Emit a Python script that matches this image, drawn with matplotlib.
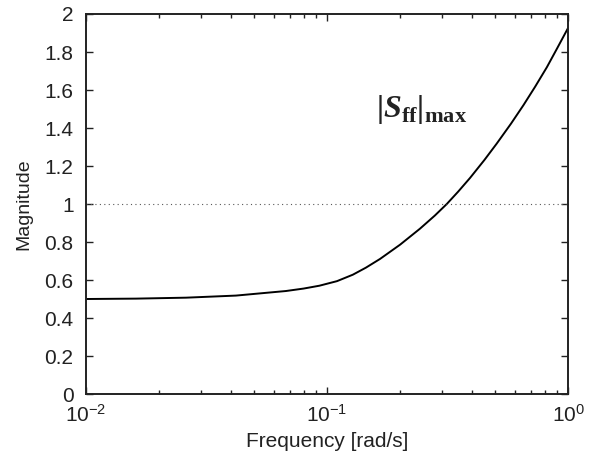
import numpy as np
import matplotlib
matplotlib.use("Agg")
import matplotlib.pyplot as plt

plt.rcParams['font.family'] = ['Liberation Sans', 'DejaVu Sans']
plt.rcParams['mathtext.fontset'] = 'custom'
plt.rcParams['mathtext.rm'] = 'Liberation Sans'
plt.rcParams['mathtext.bf'] = 'Liberation Serif:bold'
plt.rcParams['mathtext.bfit'] = 'Liberation Serif:italic:bold'

# values
freq = [0.01, 0.0161, 0.026, 0.0419, 0.0675, 0.08, 0.093, 0.11, 0.128, 0.145,
        0.166, 0.201, 0.243, 0.28, 0.314, 0.35, 0.392, 0.45, 0.506,
        0.58, 0.653, 0.73, 0.817, 0.9, 1.0]
mag = [0.500, 0.502, 0.507, 0.518, 0.542, 0.555, 0.570, 0.594, 0.628, 0.665,
       0.711, 0.786, 0.870, 0.939, 1.0, 1.065, 1.137, 1.232, 1.318,
       1.423, 1.52, 1.617, 1.72, 1.818, 1.926]
ref_x = [0.01, 1.0]
ref_y = [1.0, 1.0]
yticks = [0, 0.2, 0.4, 0.6, 0.8, 1, 1.2, 1.4, 1.6, 1.8, 2]
ytick_labels = ['0', '0.2', '0.4', '0.6', '0.8', '1', '1.2', '1.4', '1.6', '1.8', '2']

fig = plt.figure(figsize=(5.99, 4.59), dpi=100)
ax = fig.add_axes([0.1436, 0.1416, 0.8047, 0.8279])

ax.semilogx(freq, mag, color='black', linewidth=1.4)
ax.plot(ref_x, ref_y, color='0.35', linestyle=(0, (1, 3)), linewidth=0.8)

ax.set_xlim(0.01, 1)
ax.set_ylim(0, 2)
ax.set_yticks(yticks)
ax.set_yticklabels(ytick_labels)

ax.tick_params(which='both', direction='in', top=True, right=True,
               labelsize=15, colors='#222222')
ax.tick_params(which='major', length=5, width=1)
ax.tick_params(which='minor', length=3, width=1)
ax.tick_params(axis='x', pad=7)
ax.tick_params(axis='y', pad=9)
for s in ax.spines.values():
    s.set_linewidth(1.4)
    s.set_color('#222222')

ax.set_xlabel('Frequency [rad/s]', fontsize=15, color='#222222')
ax.set_ylabel('Magnitude', fontsize=14, color='#222222')
ax.xaxis.set_label_coords(0.5, -0.1)
ax.yaxis.set_label_coords(-0.112, 0.5)

ax.text(0.160, 1.46, r'$\mathbf{|}\mathbfit{S}_{\mathbf{ff}}\mathbf{|}_{\mathbf{max}}$',
        fontsize=23, color='#222222', ha='left', va='baseline')

fig.savefig('out.png', dpi=100)
